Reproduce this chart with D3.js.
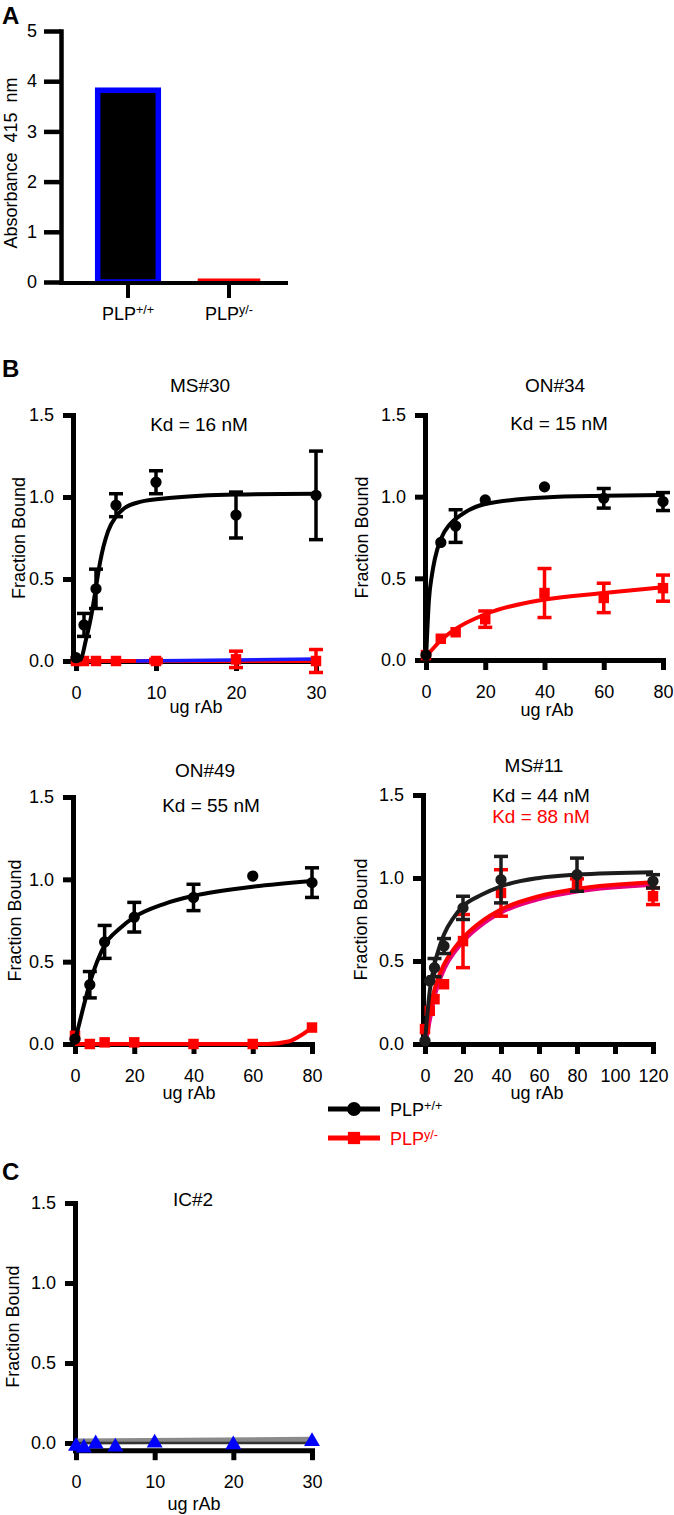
<!DOCTYPE html>
<html>
<head>
<meta charset="utf-8">
<script src="https://cdn.jsdelivr.net/npm/d3@7"></script>
<style>
  body { margin: 0; background: #fff; }
  svg { display: block; font-family: "Liberation Sans", Arial, sans-serif; }
</style>
</head>
<body>
<svg id="fig" width="674" height="1515"></svg>
<script>
// ---- panel A data
const genotypes = ["PLP+/+", "PLPy/-"];
const absorbance = [3.82, 0.05];
const absTicks = [0, 1, 2, 3, 4, 5];

// ---- shared tick values
const fbTicks = [0, 0.5, 1.0, 1.5];
const ticks30 = [0, 10, 20, 30];
const ticks80 = [0, 20, 40, 60, 80];
const ticks120 = [0, 20, 40, 60, 80, 100, 120];

// ---- MS#30
const ms30Dose = [0, 1, 2.5, 5, 10, 20, 30];
const ms30Wt = [0.02, 0.22, 0.44, 0.95, 1.09, 0.89, 1.01];
const ms30WtErr = [0, 0.07, 0.12, 0.07, 0.07, 0.14, 0.27];
const ms30Ko = [0.0, 0.0, 0.0, 0.0, 0.0, 0.01, 0.0];
const ms30KoErr = [0, 0, 0, 0, 0.01, 0.05, 0.07];
const ms30WtFitDose = [0, 0.6, 1.2, 2, 2.5, 3, 4, 5, 6, 8, 12, 20, 30];
const ms30WtFit = [0, 0.01, 0.12, 0.3, 0.45, 0.6, 0.79, 0.88, 0.93, 0.97, 0.995, 1.015, 1.02];
const ms30KoFitDose = [0, 30];
const ms30KoFit = [0.0, 0.0];
const ms30BlueFitDose = [7.5, 30];
const ms30BlueFit = [0.0, 0.012];

// ---- ON#34
const on34Dose = [0, 5, 10, 20, 40, 60, 80];
const on34Wt = [0.03, 0.72, 0.82, 0.98, 1.06, 0.99, 0.97];
const on34WtErr = [0, 0, 0.1, 0, 0, 0.06, 0.055];
const on34Ko = [0.03, 0.13, 0.17, 0.25, 0.41, 0.38, 0.44];
const on34KoErr = [0, 0, 0, 0.05, 0.15, 0.09, 0.08];
const on34WtFitDose = [0, 1, 2, 3, 5, 8, 12, 20, 40, 60, 80];
const on34WtFit = [0, 0.37, 0.52, 0.62, 0.74, 0.83, 0.89, 0.955, 0.995, 1.005, 1.01];
const on34KoFitDose = [0, 5, 10, 20, 40, 60, 80];
const on34KoFit = [0.02, 0.12, 0.19, 0.28, 0.37, 0.41, 0.445];

// ---- ON#49
const on49Dose = [0, 5, 10, 20, 40, 60, 80];
const on49Wt = [0.03, 0.36, 0.62, 0.77, 0.89, 1.02, 0.98];
const on49WtErr = [0, 0.08, 0.1, 0.09, 0.08, 0, 0.09];
const on49Ko = [0.05, 0.0, 0.01, 0.01, 0.0, 0.0, 0.1];
const on49KoErr = [0, 0, 0, 0, 0, 0, 0];
const on49WtFitDose = [0, 2.5, 5, 10, 15, 20, 30, 40, 60, 80];
const on49WtFit = [0.02, 0.2, 0.37, 0.6, 0.7, 0.77, 0.85, 0.9, 0.955, 0.99];
const on49KoFitDose = [0, 65, 72, 76, 80];
const on49KoFit = [0.0, 0.0, 0.015, 0.05, 0.1];

// ---- MS#11
const ms11Dose = [0, 2.5, 5, 10, 20, 40, 80, 120];
const ms11Wt = [0.02, 0.38, 0.46, 0.59, 0.82, 0.99, 1.02, 0.98];
const ms11WtErr = [0, 0, 0.055, 0.045, 0.07, 0.14, 0.1, 0.04];
const ms11Ko = [0.09, 0.2, 0.27, 0.36, 0.62, 0.91, 0.96, 0.89];
const ms11KoErr = [0, 0, 0, 0, 0.16, 0.14, 0.035, 0.05];
const ms11WtFitDose = [0, 1, 2.5, 5, 7.5, 10, 15, 20, 30, 40, 60, 80, 120];
const ms11WtFit = [0.02, 0.15, 0.32, 0.48, 0.58, 0.66, 0.76, 0.83, 0.9, 0.95, 1.0, 1.02, 1.035];
const ms11KoFitDose = [0, 2.5, 5, 10, 15, 20, 30, 40, 60, 80, 120];
const ms11KoFit = [0.05, 0.2, 0.33, 0.48, 0.57, 0.64, 0.74, 0.81, 0.89, 0.935, 0.975];

// ---- IC#2
const ic2Dose = [0, 1, 2.5, 5, 10, 20, 30];
const ic2Val = [-0.02, -0.03, -0.005, -0.025, 0.0, -0.01, 0.01];
const ic2FitDose = [0, 30];
const ic2FitGray = [0.01, 0.02];
const ic2FitBlack = [0.0, 0.0];

const svg = d3.select("#fig");
const BLACK = "#000", RED = "#ff0000", BLUE = "#0000ff";

function styleAxis(g, fs) {
  g.attr("font-family", null).attr("font-size", null);
  g.select(".domain").attr("stroke", BLACK).attr("stroke-width", 5).attr("stroke-linecap", "square");
  g.selectAll(".tick line").attr("stroke", BLACK).attr("stroke-width", 5);
  g.selectAll(".tick text").attr("fill", BLACK).style("font-size", fs + "px");
}

function letter(t, x, y) {
  svg.append("text").attr("x", x).attr("y", y).attr("font-size", 24)
    .attr("font-weight", "bold").text(t);
}

function supLabel(sel, d) {
  sel.text(null);
  sel.append("tspan").text(d.slice(0, 3));
  sel.append("tspan").attr("dy", "-0.45em").attr("font-size", "0.7em").text(d.slice(3));
}

// ---------------- Panel A
letter("A", 2, 24);
(function () {
  const g = svg.append("g");
  const x = d3.scaleBand().domain(genotypes).range([77.5, 279.5]).paddingInner(0.4).paddingOuter(0.2);
  const y = d3.scaleLinear().domain([0, 5]).range([282, 31]);
  const fills = [BLACK, RED], strokes = [BLUE, RED], widths = [5.5, 2];

  g.selectAll("rect.bar").data(genotypes).join("rect")
    .attr("x", d => x(d))
    .attr("y", (d, i) => y(absorbance[i]))
    .attr("width", x.bandwidth())
    .attr("height", (d, i) => y(0) - y(absorbance[i]))
    .attr("fill", (d, i) => fills[i])
    .attr("stroke", (d, i) => strokes[i])
    .attr("stroke-width", (d, i) => widths[i]);

  const ya = g.append("g").attr("transform", "translate(61,0)")
    .call(d3.axisLeft(y).tickValues(absTicks).tickSize(17).tickPadding(7).tickSizeOuter(0).tickFormat(d3.format("d")));
  styleAxis(ya, 18);
  ya.select(".domain").attr("stroke-width", 4.5);
  ya.selectAll(".tick line").attr("stroke-width", 4.5);

  g.append("line").attr("x1", 61).attr("x2", 286).attr("y1", 283).attr("y2", 283)
    .attr("stroke", BLACK).attr("stroke-width", 4).attr("stroke-linecap", "square");
  const xa = g.append("g").attr("transform", "translate(0,282)")
    .call(d3.axisBottom(x).tickSize(16).tickPadding(9).tickSizeOuter(0));
  styleAxis(xa, 18);
  xa.select(".domain").remove();
  xa.selectAll(".tick line").attr("stroke-width", 4);
  xa.selectAll(".tick text").each(function (d) { supLabel(d3.select(this), d); });

  g.append("text").attr("transform", "translate(17,163) rotate(-90)")
    .attr("text-anchor", "middle").attr("font-size", 18).attr("xml:space", "preserve")
    .text("Absorbance  415  nm");
})();

// ---------------- binding panels
function drawSeries(g, x, y, s) {
  const line = d3.line().x(d => x(d[0])).y(d => y(d[1])).curve(d3.curveMonotoneX);
  if (s.fitDose) {
    if (s.underlay) {
      g.append("path").datum(d3.zip(s.fitDose, s.fit)).attr("d", line)
        .attr("transform", "translate(1,2)")
        .attr("fill", "none").attr("stroke", s.underlay).attr("stroke-width", 5);
    }
    g.append("path").datum(d3.zip(s.fitDose, s.fit)).attr("d", line)
      .attr("fill", "none").attr("stroke", s.color).attr("stroke-width", s.fitWidth || 4);
  }
  if (s.extraFits) {
    s.extraFits.forEach(f => {
      g.append("path").datum(d3.zip(f.dose, f.val)).attr("d", line)
        .attr("fill", "none").attr("stroke", f.color).attr("stroke-width", f.width);
    });
  }
  if (s.err) {
    const eg = g.append("g").attr("stroke", s.color).attr("stroke-width", 3.5);
    s.dose.forEach((d, i) => {
      const e = s.err[i];
      if (!e) return;
      const cx = x(d), lo = y(s.val[i] - e), hi = y(s.val[i] + e);
      eg.append("line").attr("x1", cx).attr("x2", cx).attr("y1", lo).attr("y2", hi);
      eg.append("line").attr("x1", cx - 7).attr("x2", cx + 7).attr("y1", lo).attr("y2", lo);
      eg.append("line").attr("x1", cx - 7).attr("x2", cx + 7).attr("y1", hi).attr("y2", hi);
    });
  }
  const sym = d3.symbol().type(s.shape).size(s.size);
  g.selectAll(null).data(s.dose).join("path")
    .attr("transform", (d, i) => `translate(${x(d)},${y(s.val[i])})`)
    .attr("d", sym).attr("fill", s.color);
}

function drawBinding(p) {
  const g = svg.append("g");
  const x = d3.scaleLinear().domain([0, p.xMax]).range([p.x0, p.x1]);
  x.domain([x.invert(p.axisX), p.xMax]).range([p.axisX, p.x1]);
  const y = d3.scaleLinear().domain([0, 1.5]).range([p.y0, p.y15]);
  const yAx = y.copy().domain([p.yMin, 1.5]).range([y(p.yMin), p.y15]);
  const baseY = y(p.yMin);

  const ya = g.append("g").attr("transform", `translate(${p.axisX},0)`)
    .call(d3.axisLeft(yAx).tickValues(fbTicks).tickSize(10).tickPadding(9).tickSizeOuter(0).tickFormat(d3.format(".1f")));
  styleAxis(ya, 18);
  const xa = g.append("g").attr("transform", `translate(0,${baseY})`)
    .call(d3.axisBottom(x).tickValues(p.xTicks).tickSize(10).tickPadding(15).tickSizeOuter(0).tickFormat(d3.format("d")));
  styleAxis(xa, 18);

  p.series.forEach(s => drawSeries(g, x, y, s));

  g.append("text").attr("x", p.titleX).attr("y", p.titleY).attr("text-anchor", "middle")
    .attr("font-size", 19).text(p.title);
  (p.kd || []).forEach(k => {
    g.append("text").attr("x", k.x).attr("y", k.y).attr("text-anchor", "middle")
      .attr("font-size", 19).attr("fill", k.c).text(k.t);
  });
  g.append("text").attr("x", p.xLabelX).attr("y", p.xLabelY).attr("text-anchor", "middle")
    .attr("font-size", 18).text("ug rAb");
  g.append("text")
    .attr("transform", `translate(${p.labelX},${(p.y15 + baseY) / 2}) rotate(-90)`)
    .attr("text-anchor", "middle").attr("font-size", 18).text("Fraction Bound");
}

const CIRCLE = 100, SQUARE = 110;
const wt = (dose, val, err, fd, f) => ({ dose, val, err, fitDose: fd, fit: f, color: BLACK, shape: d3.symbolCircle, size: CIRCLE });
const ko = (dose, val, err, fd, f) => ({ dose, val, err, fitDose: fd, fit: f, color: RED, shape: d3.symbolSquare, size: SQUARE });

letter("B", 2, 377);

const ms30KoSeries = ko(ms30Dose, ms30Ko, ms30KoErr, ms30KoFitDose, ms30KoFit);
ms30KoSeries.extraFits = [{ dose: ms30BlueFitDose, val: ms30BlueFit, color: "#1a1aff", width: 3.5 }];

drawBinding({
  title: "MS#30", titleX: 200, titleY: 392,
  kd: [{ t: "Kd = 16 nM", c: BLACK, x: 199, y: 431 }],
  axisX: 73, x0: 76, x1: 316, xMax: 30, xTicks: ticks30,
  y0: 661, y15: 415, yMin: 0, labelX: 25, xLabelX: 196, xLabelY: 713,
  series: [ms30KoSeries, wt(ms30Dose, ms30Wt, ms30WtErr, ms30WtFitDose, ms30WtFit)]
});

drawBinding({
  title: "ON#34", titleX: 555, titleY: 392,
  kd: [{ t: "Kd = 15 nM", c: BLACK, x: 559, y: 430 }],
  axisX: 425, x0: 426, x1: 663, xMax: 80, xTicks: ticks80,
  y0: 660, y15: 415, yMin: 0, labelX: 368, xLabelX: 547, xLabelY: 716,
  series: [ko(on34Dose, on34Ko, on34KoErr, on34KoFitDose, on34KoFit),
           wt(on34Dose, on34Wt, on34WtErr, on34WtFitDose, on34WtFit)]
});

drawBinding({
  title: "ON#49", titleX: 205, titleY: 777,
  kd: [{ t: "Kd = 55 nM", c: BLACK, x: 211, y: 812 }],
  axisX: 73, x0: 75, x1: 312, xMax: 80, xTicks: ticks80,
  y0: 1044, y15: 797, yMin: 0, labelX: 21, xLabelX: 189, xLabelY: 1099,
  series: [ko(on49Dose, on49Ko, on49KoErr, on49KoFitDose, on49KoFit),
           wt(on49Dose, on49Wt, on49WtErr, on49WtFitDose, on49WtFit)]
});

const ms11KoSeries = ko(ms11Dose, ms11Ko, ms11KoErr, ms11KoFitDose, ms11KoFit);
ms11KoSeries.underlay = "#e6007e";
const ms11WtSeries = wt(ms11Dose, ms11Wt, ms11WtErr, ms11WtFitDose, ms11WtFit);
ms11WtSeries.color = "#1c1c1c";

drawBinding({
  title: "MS#11", titleX: 534, titleY: 772,
  kd: [{ t: "Kd = 44 nM", c: BLACK, x: 541, y: 802 }, { t: "Kd = 88 nM", c: RED, x: 541, y: 823 }],
  axisX: 423, x0: 425, x1: 653, xMax: 120, xTicks: ticks120,
  y0: 1044, y15: 795, yMin: 0, labelX: 367, xLabelX: 537, xLabelY: 1099,
  series: [ms11KoSeries, ms11WtSeries]
});

// legend
(function () {
  const items = [
    { c: BLACK, shape: d3.symbolCircle, size: 150, y: 1109, label: "PLP+/+" },
    { c: RED, shape: d3.symbolSquare, size: 150, y: 1138, label: "PLPy/-" }
  ];
  const lg = svg.append("g");
  items.forEach(it => {
    lg.append("line").attr("x1", 328).attr("x2", 380).attr("y1", it.y).attr("y2", it.y)
      .attr("stroke", it.c).attr("stroke-width", 5);
    lg.append("path").attr("transform", `translate(354,${it.y})`)
      .attr("d", d3.symbol().type(it.shape).size(it.size)).attr("fill", it.c);
    const t = lg.append("text").attr("x", 390).attr("y", it.y + 7).attr("font-size", 18).attr("fill", it.c);
    supLabel(t, it.label);
  });
})();

// ---------------- Panel C
letter("C", 2, 1180);
drawBinding({
  title: "IC#2", titleX: 193, titleY: 1206,
  kd: [],
  axisX: 75, x0: 76, x1: 312, xMax: 30, xTicks: ticks30,
  y0: 1443, y15: 1203, yMin: -0.045, labelX: 19, xLabelX: 194, xLabelY: 1510,
  series: [{
    dose: ic2Dose, val: ic2Val, err: null, color: BLUE, shape: d3.symbolTriangle, size: 110,
    extraFits: [
      { dose: ic2FitDose, val: ic2FitGray, color: "#8a8a8a", width: 6 },
      { dose: ic2FitDose, val: ic2FitBlack, color: "#333", width: 2.5 }
    ]
  }]
});
</script>
</body>
</html>
